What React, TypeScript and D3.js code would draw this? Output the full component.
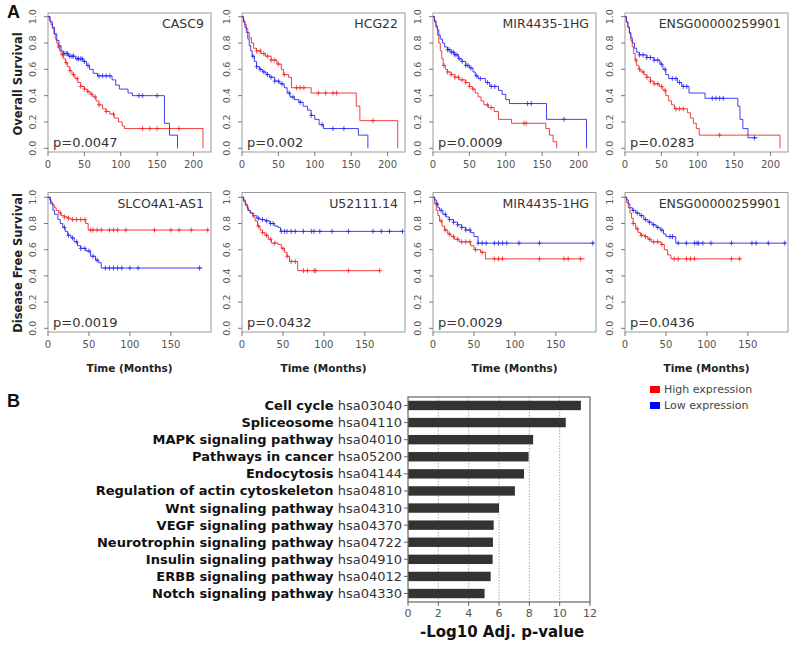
import React from 'react';
import * as d3 from 'd3';

type Step = [number, number];

// ---------- Overall survival (top row) ----------
const casc9High: Step[] = [[0,1],[2,0.97],[4,0.94],[6,0.91],[8,0.87],[10,0.83],[12,0.8],[14,0.77],[16,0.74],[18,0.71],[21,0.68],[24,0.65],[27,0.62],[30,0.59],[33,0.56],[37,0.53],[41,0.5],[45,0.47],[50,0.45],[54,0.43],[58,0.41],[62,0.39],[66,0.36],[70,0.33],[75,0.3],[80,0.28],[85,0.26],[91,0.23],[97,0.2],[102,0.17],[105,0.15],[213,0]];
const casc9Low: Step[] = [[0,1],[3,0.96],[6,0.92],[9,0.87],[12,0.82],[15,0.78],[18,0.74],[21,0.72],[28,0.7],[38,0.68],[48,0.66],[53,0.63],[57,0.6],[62,0.57],[68,0.55],[88,0.52],[93,0.48],[98,0.45],[110,0.42],[116,0.4],[160,0.19],[167,0.1],[178,0]];
const casc9HighCens = [15,20,25,30,35,40,45,50,55,60,65,70,80,90,130,140,150,180];
const casc9LowCens = [22,25,27,30,33,35,40,42,45,47,50,55,70,75,80,85,125,130,150];

const hcg22High: Step[] = [[0,1],[2,0.97],[4,0.94],[6,0.91],[8,0.88],[10,0.84],[13,0.8],[16,0.76],[20,0.74],[26,0.72],[32,0.7],[40,0.67],[48,0.64],[54,0.6],[57,0.56],[64,0.54],[68,0.46],[95,0.42],[157,0.32],[162,0.21],[214,0]];
const hcg22Low: Step[] = [[0,1],[2,0.96],[4,0.92],[6,0.88],[8,0.83],[10,0.78],[12,0.74],[14,0.7],[17,0.66],[20,0.62],[24,0.6],[28,0.58],[33,0.56],[38,0.54],[45,0.51],[52,0.49],[58,0.46],[62,0.42],[66,0.39],[72,0.37],[78,0.35],[84,0.32],[90,0.29],[95,0.25],[100,0.22],[106,0.18],[112,0.15],[160,0.1],[173,0]];
const hcg22HighCens = [20,25,30,35,40,45,50,58,75,80,85,105,115,125,130,180];
const hcg22LowCens = [15,20,25,30,35,40,45,50,55,65,70,80,95,110,125,140];

const mirOsHigh: Step[] = [[0,1],[2,0.96],[4,0.92],[6,0.86],[8,0.8],[10,0.74],[12,0.68],[14,0.63],[17,0.6],[20,0.58],[25,0.56],[30,0.54],[36,0.52],[45,0.5],[50,0.47],[54,0.45],[58,0.42],[62,0.39],[66,0.36],[70,0.33],[76,0.31],[84,0.28],[90,0.22],[108,0.19],[155,0.15],[160,0.1],[165,0.05],[170,0]];
const mirOsLow: Step[] = [[0,1],[2,0.97],[4,0.93],[6,0.9],[8,0.86],[10,0.83],[13,0.8],[16,0.77],[20,0.75],[25,0.73],[30,0.71],[35,0.68],[40,0.66],[45,0.63],[50,0.61],[55,0.58],[58,0.55],[62,0.53],[72,0.5],[78,0.47],[90,0.44],[95,0.41],[100,0.37],[105,0.34],[156,0.22],[211,0]];
const mirOsHighCens = [15,20,25,30,35,40,45,50,55,75,80,125,128];
const mirOsLowCens = [20,22,25,28,30,33,36,40,45,48,52,60,65,75,80,85,130,135,180];

const ensgOsHigh: Step[] = [[0,1],[2,0.96],[4,0.92],[6,0.87],[8,0.82],[10,0.77],[12,0.72],[14,0.67],[16,0.63],[19,0.6],[22,0.58],[26,0.56],[30,0.54],[35,0.51],[40,0.49],[47,0.47],[52,0.44],[56,0.4],[60,0.36],[64,0.33],[68,0.3],[86,0.27],[90,0.23],[94,0.19],[98,0.15],[102,0.1],[213,0]];
const ensgOsLow: Step[] = [[0,1],[2,0.96],[4,0.92],[6,0.88],[8,0.84],[10,0.8],[13,0.76],[16,0.73],[20,0.71],[30,0.69],[40,0.67],[48,0.64],[52,0.6],[56,0.56],[60,0.53],[72,0.5],[78,0.47],[88,0.42],[110,0.38],[155,0.32],[158,0.22],[162,0.15],[169,0.08],[182,0.08]];
const ensgOsHighCens = [15,20,25,30,35,40,45,50,55,70,75,80,130];
const ensgOsLowCens = [20,25,30,35,40,45,50,55,65,70,75,80,85,120,125,130,135,178];

// ---------- Disease free survival (bottom row) ----------
const slcoHigh: Step[] = [[0,1],[2,0.98],[4,0.96],[6,0.94],[8,0.92],[10,0.9],[13,0.88],[16,0.86],[20,0.85],[24,0.84],[28,0.83],[46,0.8],[49,0.75],[196,0.75]];
const slcoLow: Step[] = [[0,1],[3,0.95],[6,0.9],[8,0.87],[12,0.83],[15,0.8],[18,0.77],[21,0.74],[24,0.71],[28,0.69],[32,0.66],[36,0.63],[40,0.61],[46,0.59],[52,0.55],[58,0.52],[62,0.5],[65,0.46],[188,0.46]];
const slcoHighCens = [15,20,25,30,35,40,45,52,55,60,65,75,80,85,95,130,150,160,175,195];
const slcoLowCens = [20,25,30,35,40,45,50,55,60,70,75,80,85,90,100,110,185];

const u52High: Step[] = [[0,1],[2,0.98],[4,0.95],[6,0.92],[8,0.9],[10,0.88],[13,0.85],[16,0.82],[19,0.78],[22,0.75],[25,0.73],[28,0.71],[32,0.68],[36,0.65],[44,0.64],[48,0.61],[52,0.58],[55,0.55],[58,0.51],[68,0.44],[170,0.44]];
const u52Low: Step[] = [[0,1],[2,0.97],[4,0.94],[7,0.9],[10,0.88],[14,0.86],[18,0.84],[22,0.83],[28,0.82],[34,0.8],[40,0.78],[44,0.77],[47,0.74],[196,0.74]];
const u52HighCens = [20,25,30,35,40,50,55,60,65,75,80,88,90,130,168];
const u52LowCens = [20,25,30,35,38,48,52,55,60,65,75,85,88,95,110,130,160,170,180,196];

const mirDfsHigh: Step[] = [[0,1],[2,0.95],[4,0.9],[6,0.86],[8,0.82],[11,0.78],[14,0.75],[18,0.72],[22,0.7],[26,0.68],[32,0.66],[46,0.63],[50,0.6],[58,0.58],[64,0.53],[185,0.53]];
const mirDfsLow: Step[] = [[0,1],[2,0.98],[4,0.95],[6,0.92],[8,0.9],[12,0.87],[16,0.85],[20,0.83],[25,0.81],[30,0.79],[35,0.77],[40,0.75],[46,0.73],[50,0.7],[55,0.65],[197,0.65]];
const mirDfsHighCens = [10,15,20,25,30,35,40,45,52,60,75,80,85,130,160,165,180];
const mirDfsLowCens = [5,10,15,20,25,30,35,40,45,55,60,65,75,80,85,90,105,130,195];

const ensgDfsHigh: Step[] = [[0,1],[2,0.96],[4,0.92],[6,0.88],[8,0.84],[10,0.8],[13,0.76],[16,0.73],[19,0.71],[24,0.7],[28,0.68],[32,0.66],[44,0.64],[48,0.6],[52,0.56],[56,0.53],[142,0.53]];
const ensgDfsLow: Step[] = [[0,1],[2,0.98],[4,0.95],[6,0.92],[9,0.9],[13,0.88],[18,0.86],[23,0.83],[28,0.81],[33,0.79],[38,0.77],[43,0.75],[47,0.72],[50,0.7],[62,0.65],[197,0.65]];
const ensgDfsHighCens = [10,15,20,25,30,35,40,45,60,65,75,80,85,130,140];
const ensgDfsLowCens = [10,15,20,25,30,35,40,45,55,58,65,75,85,88,90,95,105,130,155,160,175,195];

const osGenes = ['CASC9', 'HCG22', 'MIR4435-1HG', 'ENSG00000259901'];
const osPvals = ['p=0.0047', 'p=0.002', 'p=0.0009', 'p=0.0283'];
const dfsGenes = ['SLCO4A1-AS1', 'U52111.14', 'MIR4435-1HG', 'ENSG00000259901'];
const dfsPvals = ['p=0.0019', 'p=0.0432', 'p=0.0029', 'p=0.0436'];

const osTicksX = [0, 50, 100, 150, 200];
const dfsTicksX = [0, 50, 100, 150];
const survTicks = [0, 0.2, 0.4, 0.6, 0.8, 1.0];

const legendLabels = ['High expression', 'Low expression'];

// ---------- KEGG pathway bar chart ----------
const pathwayNames = ['Cell cycle', 'Spliceosome', 'MAPK signaling pathway', 'Pathways in cancer', 'Endocytosis', 'Regulation of actin cytoskeleton', 'Wnt signaling pathway', 'VEGF signaling pathway', 'Neurotrophin signaling pathway', 'Insulin signaling pathway', 'ERBB signaling pathway', 'Notch signaling pathway'];
const pathwayIds = ['hsa03040', 'hsa04110', 'hsa04010', 'hsa05200', 'hsa04144', 'hsa04810', 'hsa04310', 'hsa04370', 'hsa04722', 'hsa04910', 'hsa04012', 'hsa04330'];
const pathwayScores = [11.4, 10.4, 8.25, 7.95, 7.65, 7.05, 6.0, 5.65, 5.6, 5.58, 5.45, 5.05];
const barTicks = [0, 2, 4, 6, 8, 10, 12];

// ---------- layout ----------
const FONT = 'DejaVu Sans, sans-serif';
const RED = '#f02020';
const BLUE = '#2020f0';
const panelLefts = [48, 242, 433, 625];
const panelW = 163;

function kmPath(steps: Step[], x: (v: number) => number, y: (v: number) => number) {
  let d = `M${x(steps[0][0])},${y(steps[0][1])}`;
  for (let i = 1; i < steps.length; i++) d += `H${x(steps[i][0])}V${y(steps[i][1])}`;
  return d;
}
function survAt(steps: Step[], t: number) {
  let s = steps[0][1];
  for (const st of steps) if (st[0] <= t) s = st[1];
  return s;
}

type PanelProps = {
  left: number; top: number; bottom: number; y1: number; y0: number;
  xMax: number; ticks: number[]; gene: string; pval: string;
  high: Step[]; low: Step[]; highCens: number[]; lowCens: number[]; xlab: boolean;
};

function KMPanel(p: PanelProps) {
  const x = d3.scaleLinear().domain([0, p.xMax]).range([p.left, p.left + panelW]);
  const y = d3.scaleLinear().domain([0, 1]).range([p.y0, p.y1]);
  const curves = [
    { steps: p.high, cens: p.highCens, color: RED },
    { steps: p.low, cens: p.lowCens, color: BLUE },
  ];
  return (
    <g>
      <rect x={p.left} y={p.top} width={panelW} height={p.bottom - p.top} fill="white" stroke="#999" strokeWidth={1} />
      {survTicks.map(t => (
        <g key={'y' + t}>
          <line x1={p.left - 4} x2={p.left} y1={y(t)} y2={y(t)} stroke="#777" />
          <text transform={`translate(${p.left - 12},${y(t)}) rotate(-90)`} textAnchor="middle" fontSize={9.5} fill="#555" fontFamily={FONT}>{t.toFixed(1)}</text>
        </g>
      ))}
      {p.ticks.map(t => (
        <g key={'x' + t}>
          <line x1={x(t)} x2={x(t)} y1={p.bottom} y2={p.bottom + 4} stroke="#777" />
          <text x={x(t)} y={p.bottom + 16} textAnchor="middle" fontSize={10} fill="#555" fontFamily={FONT}>{t}</text>
        </g>
      ))}
      {curves.map((c, i) => (
        <g key={i}>
          <path d={kmPath(c.steps, x, y)} fill="none" stroke={c.color} strokeWidth={1} opacity={0.85} />
          {c.cens.map((t, j) => {
            const cx = x(t), cy = y(survAt(c.steps, t));
            return <path key={j} d={`M${cx - 2},${cy}H${cx + 2}M${cx},${cy - 2.5}V${cy + 2.5}`} stroke={c.color} strokeWidth={0.9} opacity={0.85} />;
          })}
        </g>
      ))}
      <text x={p.left + panelW - 7} y={p.top + 15} textAnchor="end" fontSize={12.5} fill="#333" fontFamily={FONT}>{p.gene}</text>
      <text x={p.left + 5} y={p.bottom - 5.5} fontSize={13} fill="#333" fontFamily={FONT}>{p.pval}</text>
      {p.xlab && (
        <text x={p.left + panelW / 2} y={372} textAnchor="middle" fontSize={10.5} fontWeight="bold" fill="#222" fontFamily={FONT}>Time (Months)</text>
      )}
    </g>
  );
}

function BarChart() {
  const x = d3.scaleLinear().domain([0, 12]).range([408, 590]);
  const y = d3.scaleBand<string>().domain(pathwayNames).range([397, 602]).paddingInner(0.45).paddingOuter(0.22);
  const boundaries = pathwayNames.map((_, i) => 397 + (i + 0.5) * (205 / 12));
  return (
    <g>
      {barTicks.slice(1, -1).map(t => (
        <line key={'g' + t} x1={x(t)} x2={x(t)} y1={397} y2={602} stroke="#aaa" strokeDasharray="1.5,1.5" />
      ))}
      {pathwayNames.map((n, i) => (
        <rect key={n} x={x(0)} y={y(n)!} width={x(pathwayScores[i]) - x(0)} height={y.bandwidth()} fill="#333" />
      ))}
      <rect x={408} y={397} width={182} height={205} fill="none" stroke="#666" strokeWidth={1.2} />
      {boundaries.map((b, i) => (
        <line key={'yt' + i} x1={404} x2={408} y1={b} y2={b} stroke="#666" />
      ))}
      {barTicks.map(t => (
        <g key={'t' + t}>
          <line x1={x(t)} x2={x(t)} y1={602} y2={606} stroke="#666" />
          <text x={x(t)} y={617} textAnchor="middle" fontSize={11} fill="#555" fontFamily={FONT}>{t}</text>
        </g>
      ))}
      {pathwayNames.map((n, i) => (
        <text key={'l' + n} x={402} y={y(n)! + y.bandwidth() / 2 + 4.5} textAnchor="end" fontSize={13} fill="#111" fontFamily={FONT}>
          <tspan fontWeight="bold">{n}</tspan>
          <tspan fill="#333">{' ' + pathwayIds[i]}</tspan>
        </text>
      ))}
      <text x={502} y={637} textAnchor="middle" fontSize={15} fontWeight="bold" fill="#111" fontFamily={FONT}>-Log10 Adj. p-value</text>
    </g>
  );
}

export default function App() {
  const osData = [
    { high: casc9High, low: casc9Low, hc: casc9HighCens, lc: casc9LowCens },
    { high: hcg22High, low: hcg22Low, hc: hcg22HighCens, lc: hcg22LowCens },
    { high: mirOsHigh, low: mirOsLow, hc: mirOsHighCens, lc: mirOsLowCens },
    { high: ensgOsHigh, low: ensgOsLow, hc: ensgOsHighCens, lc: ensgOsLowCens },
  ];
  const dfsData = [
    { high: slcoHigh, low: slcoLow, hc: slcoHighCens, lc: slcoLowCens },
    { high: u52High, low: u52Low, hc: u52HighCens, lc: u52LowCens },
    { high: mirDfsHigh, low: mirDfsLow, hc: mirDfsHighCens, lc: mirDfsLowCens },
    { high: ensgDfsHigh, low: ensgDfsLow, hc: ensgDfsHighCens, lc: ensgDfsLowCens },
  ];
  return (
    <svg width={800} height={648} style={{ position: 'absolute', left: 0, top: 0, background: 'white' }}>
      <rect x={0} y={0} width={800} height={648} fill="white" />
      <text x={7} y={18} fontSize={18} fontWeight="bold" fontFamily="Liberation Sans, Arial, sans-serif" fill="#111">A</text>
      <text x={7} y={407} fontSize={18} fontWeight="bold" fontFamily="Liberation Sans, Arial, sans-serif" fill="#111">B</text>
      <text transform="translate(22,84) rotate(-90)" textAnchor="middle" fontSize={11.5} fontWeight="bold" fill="#222" fontFamily={FONT}>Overall Survival</text>
      <text transform="translate(22,263) rotate(-90)" textAnchor="middle" fontSize={11.5} fontWeight="bold" fill="#222" fontFamily={FONT}>Disease Free Survival</text>
      {osData.map((d, i) => (
        <KMPanel key={'os' + i} left={panelLefts[i]} top={13} bottom={152} y1={16.7} y0={148.3} xMax={224} ticks={osTicksX}
          gene={osGenes[i]} pval={osPvals[i]} high={d.high} low={d.low} highCens={d.hc} lowCens={d.lc} xlab={false} />
      ))}
      {dfsData.map((d, i) => (
        <KMPanel key={'dfs' + i} left={panelLefts[i]} top={192.5} bottom={332} y1={197.3} y0={328.3} xMax={199} ticks={dfsTicksX}
          gene={dfsGenes[i]} pval={dfsPvals[i]} high={d.high} low={d.low} highCens={d.hc} lowCens={d.lc} xlab={true} />
      ))}
      {legendLabels.map((l, i) => (
        <g key={l}>
          <rect x={650} y={386 + i * 16} width={10} height={7} fill={i === 0 ? '#ff0000' : '#0000ff'} />
          <text x={664} y={393 + i * 16} fontSize={11} fill="#444" fontFamily={FONT}>{l}</text>
        </g>
      ))}
      <BarChart />
    </svg>
  );
}
